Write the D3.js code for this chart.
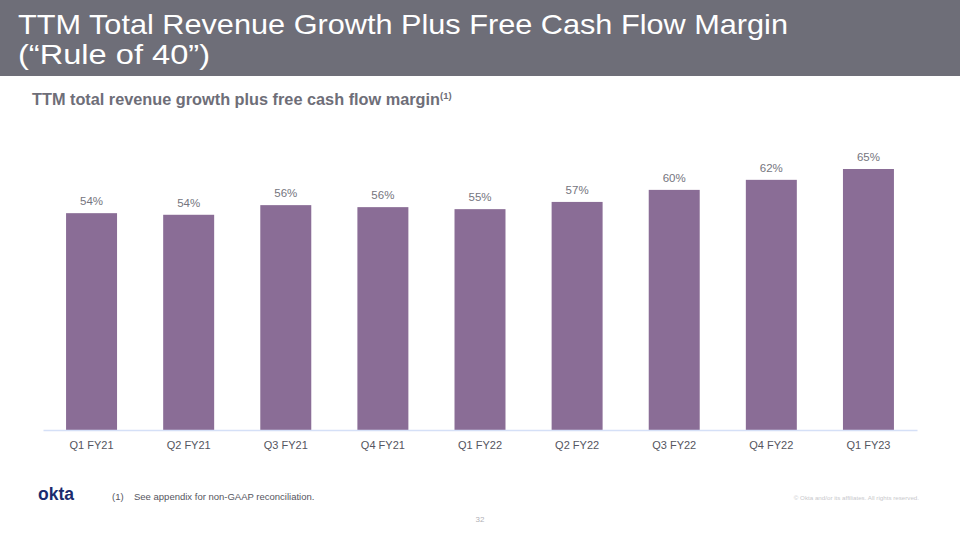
<!DOCTYPE html>
<html><head><meta charset="utf-8">
<script src="https://cdn.jsdelivr.net/npm/d3@7"></script>
<style>body{margin:0;background:#fff}svg{display:block}</style>
</head><body>
<script>
const categories = ["Q1 FY21","Q2 FY21","Q3 FY21","Q4 FY21","Q1 FY22","Q2 FY22","Q3 FY22","Q4 FY22","Q1 FY23"];
const values = [54.0, 53.6, 56.0, 55.5, 55.0, 56.8, 59.8, 62.3, 65.0];
const labels = ["54%","54%","56%","56%","55%","57%","60%","62%","65%"];

const W = 960, H = 540;
const svg = d3.select("body").append("svg").attr("width", W).attr("height", H);

// header band
svg.append("rect").attr("x",0).attr("y",0).attr("width",W).attr("height",76).attr("fill","#6e6e78");
svg.append("text").attr("x",18).attr("y",34).attr("fill","#fff")
  .attr("font-family","Liberation Sans, Arial, sans-serif").attr("font-size",28)
  .attr("textLength",770).attr("lengthAdjust","spacingAndGlyphs")
  .text("TTM Total Revenue Growth Plus Free Cash Flow Margin");
svg.append("text").attr("x",18).attr("y",64).attr("fill","#fff")
  .attr("font-family","Liberation Sans, Arial, sans-serif").attr("font-size",28)
  .attr("textLength",192).attr("lengthAdjust","spacingAndGlyphs")
  .text("(\u201cRule of 40\u201d)");

// subtitle
const sub = svg.append("text").attr("x",32).attr("y",105).attr("fill","#6e6e78")
  .attr("font-family","Liberation Sans, Arial, sans-serif").attr("font-weight","bold").attr("font-size",16.3);
sub.append("tspan").text("TTM total revenue growth plus free cash flow margin");
sub.append("tspan").attr("font-size",9.5).attr("dy",-6).text("(1)");

const x = d3.scaleBand().domain(categories).range([43,917]).paddingInner(0.475).paddingOuter(0.2375);
const y = d3.scaleLinear().domain([0,65]).range([430,169]);

svg.selectAll("rect.bar").data(values).join("rect").attr("class","bar")
  .attr("x",(d,i)=>x(categories[i])).attr("width",x.bandwidth())
  .attr("y",d=>y(d)).attr("height",d=>y(0)-y(d)).attr("fill","#8a6d96");

svg.selectAll("text.val").data(values).join("text").attr("class","val")
  .attr("x",(d,i)=>x(categories[i])+x.bandwidth()/2).attr("y",d=>y(d)-8)
  .attr("text-anchor","middle").attr("fill","#75757e")
  .attr("font-family","Liberation Sans, Arial, sans-serif").attr("font-size",11.5)
  .text((d,i)=>labels[i]);

const axis = svg.append("g").attr("transform","translate(0,430)")
  .call(d3.axisBottom(x).tickSize(0).tickPadding(11));
axis.select(".domain").attr("stroke","#d5e0f7").attr("stroke-width",1.5);
axis.selectAll("text").attr("fill","#555560").attr("font-family","Liberation Sans, Arial, sans-serif").attr("font-size",11);

// footer
svg.append("text").attr("x",38).attr("y",500).attr("fill","#1b2b6e").attr("font-family","Liberation Sans, Arial, sans-serif")
  .attr("font-weight","bold").attr("font-size",17.5).text("okta");
svg.append("text").attr("x",112).attr("y",500).attr("fill","#555560").attr("font-family","Liberation Sans, Arial, sans-serif")
  .attr("font-size",9.5).text("(1)");
svg.append("text").attr("x",134).attr("y",500).attr("fill","#555560").attr("font-family","Liberation Sans, Arial, sans-serif")
  .attr("font-size",9.5).text("See appendix for non-GAAP reconciliation.");
svg.append("text").attr("x",919).attr("y",500).attr("text-anchor","end").attr("fill","#c8c8cc").attr("font-family","Liberation Sans, Arial, sans-serif")
  .attr("font-size",6.2).text("\u00a9 Okta and/or its affiliates. All rights reserved.");
svg.append("text").attr("x",480).attr("y",522).attr("text-anchor","middle").attr("fill","#b0b0b6").attr("font-family","Liberation Sans, Arial, sans-serif")
  .attr("font-size",8).text("32");
</script>
</body></html>
